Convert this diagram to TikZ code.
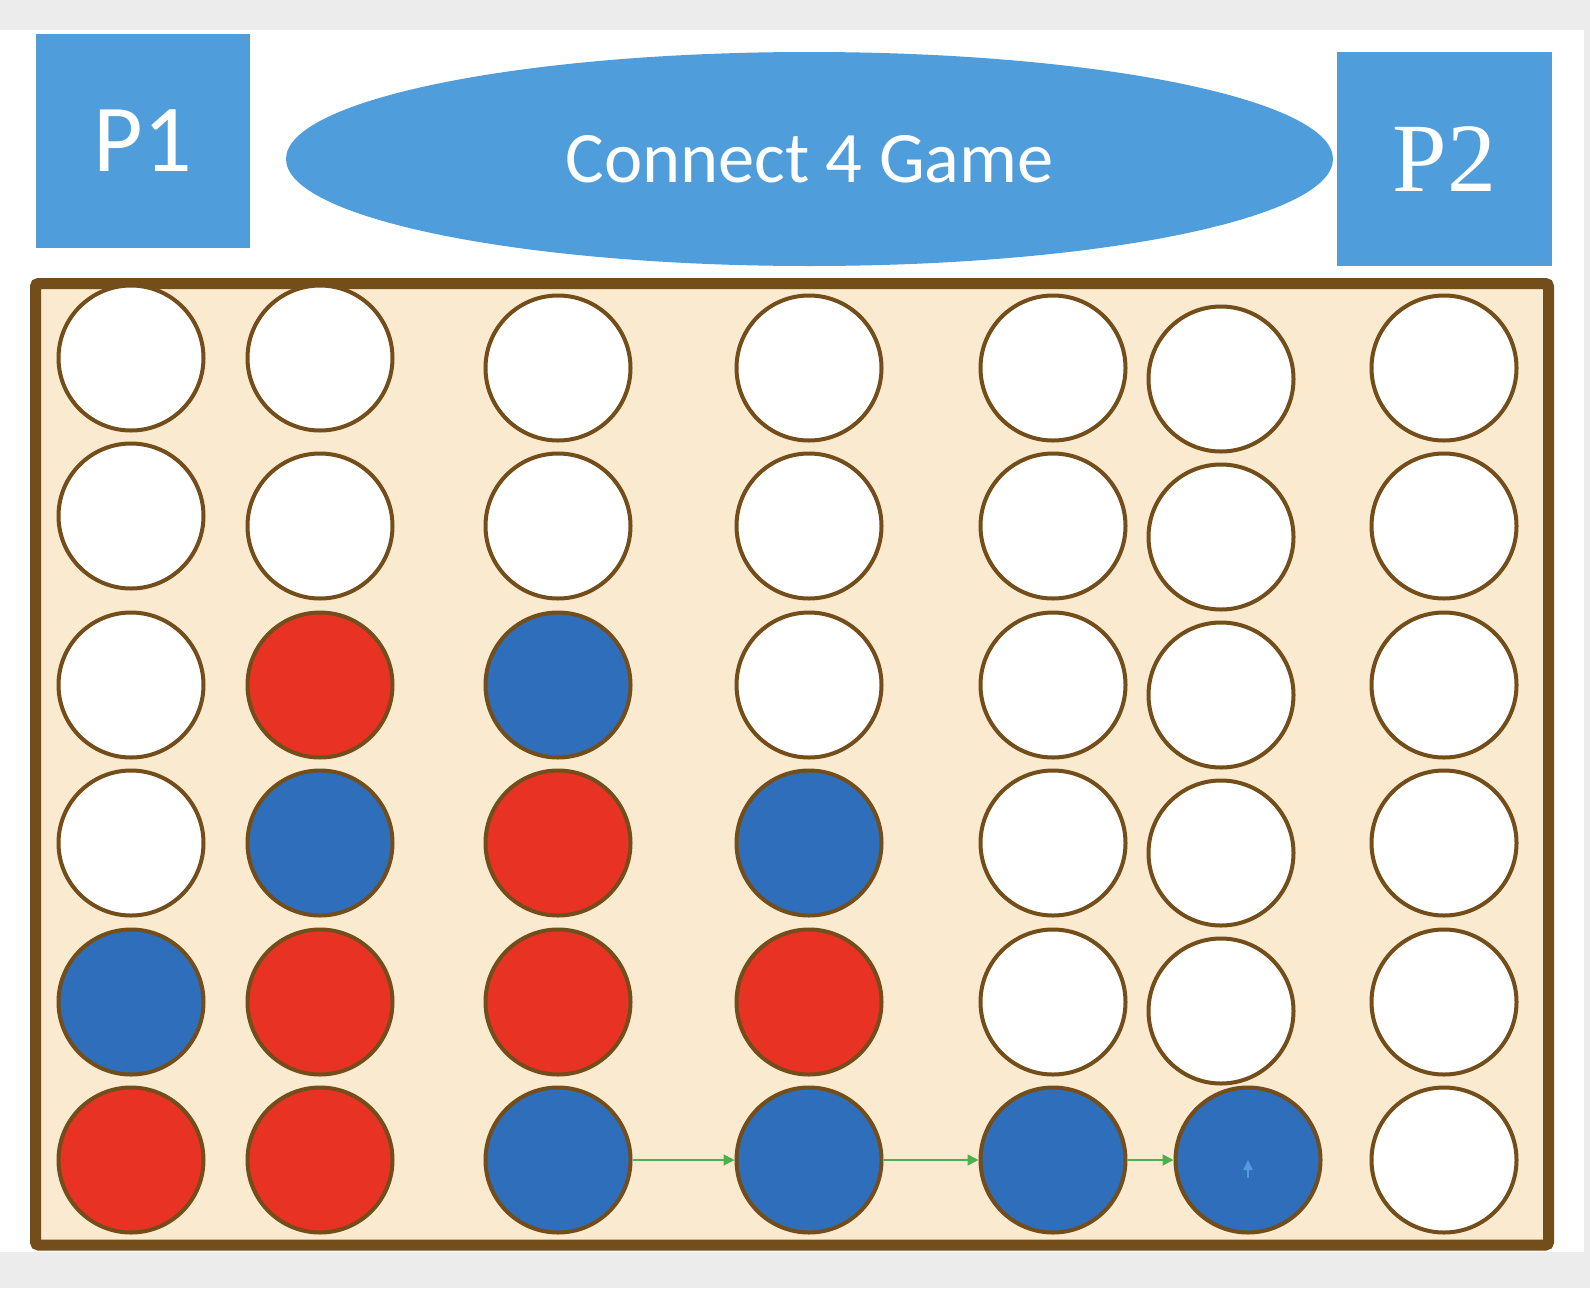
\documentclass[tikz,border=0pt]{standalone}
\usepackage{fontspec}
\usepackage{tikz}
\usetikzlibrary{arrows.meta, shapes.geometric}
\newfontfamily\calfont{Carlito}
\newfontfamily\serfont{Liberation Serif}
\definecolor{boardbrown}{RGB}{115,77,26}
\definecolor{boardbeige}{RGB}{250,234,208}
\definecolor{titleblue}{RGB}{79,158,219}
\definecolor{chipred}{RGB}{232,50,35}
\definecolor{chipblue}{RGB}{46,110,186}
\definecolor{wingreen}{RGB}{76,175,80}
\definecolor{pagegray}{RGB}{236,236,236}
\tikzset{
  hole/.style={circle, draw=boardbrown, line width=4pt, fill=white, minimum size=145pt, inner sep=0pt},
  redchip/.style={hole, fill=chipred},
  bluechip/.style={hole, fill=chipblue},
  playerbox/.style={rectangle, fill=titleblue, text=white, minimum width=214pt, minimum height=214pt, inner sep=0pt},
  titlebox/.style={ellipse, fill=titleblue, text=white, minimum width=1047pt, minimum height=214pt, inner sep=0pt},
  winarrow/.style={draw=wingreen, line width=1.8pt, -{Triangle[length=11pt,width=11pt]}}
}

\begin{document}
\begin{tikzpicture}[x=1pt, y=-1pt]
            \useasboundingbox (0,0) rectangle (1590,1288);
            \fill[pagegray] (0,0) rectangle (1590,1288);
            \fill[white] (0,30) rectangle (1584,1252);

            \node[playerbox, font=\calfont\fontsize{96}{96}\selectfont] (p1) at (143,141) {P1};
            \node[titlebox, font=\calfont\fontsize{72.5}{72.5}\selectfont] (title) at (809.5,159) {Connect 4 Game};
            \node[playerbox, minimum width=215pt, font=\serfont\fontsize{98}{98}\selectfont] (p2) at (1444.5,159) {P2};

            \draw[draw=boardbrown, fill=boardbeige, line width=11pt, rounded corners=3pt] (35.5,283.5) rectangle (1548.5,1245);

            \node[hole] (c11) at (131,358) {};
            \node[hole] (c12) at (131,516) {};
            \node[hole] (c13) at (131,685) {};
            \node[hole] (c14) at (131,843) {};
            \node[bluechip] (c15) at (131,1002) {};
            \node[redchip] (c16) at (131,1160) {};

            \node[hole] (c21) at (320,358) {};
            \node[hole] (c22) at (320,526) {};
            \node[redchip] (c23) at (320,685) {};
            \node[bluechip] (c24) at (320,843) {};
            \node[redchip] (c25) at (320,1002) {};
            \node[redchip] (c26) at (320,1160) {};

            \node[hole] (c31) at (558,368) {};
            \node[hole] (c32) at (558,526) {};
            \node[bluechip] (c33) at (558,685) {};
            \node[redchip] (c34) at (558,843) {};
            \node[redchip] (c35) at (558,1002) {};
            \node[bluechip] (c36) at (558,1160) {};

            \node[hole] (c41) at (809,368) {};
            \node[hole] (c42) at (809,526) {};
            \node[hole] (c43) at (809,685) {};
            \node[bluechip] (c44) at (809,843) {};
            \node[redchip] (c45) at (809,1002) {};
            \node[bluechip] (c46) at (809,1160) {};

            \node[hole] (c51) at (1053,368) {};
            \node[hole] (c52) at (1053,526) {};
            \node[hole] (c53) at (1053,685) {};
            \node[hole] (c54) at (1053,843) {};
            \node[hole] (c55) at (1053,1002) {};
            \node[bluechip] (c56) at (1053,1160) {};

            \node[hole] (c61) at (1221,379) {};
            \node[hole] (c62) at (1221,537) {};
            \node[hole] (c63) at (1221,695) {};
            \node[hole] (c64) at (1221,853) {};
            \node[hole] (c65) at (1221,1011) {};
            \node[bluechip] (c66) at (1248,1160) {};

            \node[hole] (c71) at (1444,368) {};
            \node[hole] (c72) at (1444,526) {};
            \node[hole] (c73) at (1444,685) {};
            \node[hole] (c74) at (1444,843) {};
            \node[hole] (c75) at (1444,1002) {};
            \node[hole] (c76) at (1444,1160) {};

            \draw[winarrow] (c36) -- (c46);
            \draw[winarrow] (c46) -- (c56);
            \draw[winarrow] (c56) -- (c66);

            \coordinate (droptail) at (1248,1178);
            \coordinate (drophead) at (1248,1160);
            \draw[draw=titleblue, line width=2pt, -{Triangle[length=10pt,width=9pt]}] (droptail) -- (drophead);
        \end{tikzpicture}
\end{document}
